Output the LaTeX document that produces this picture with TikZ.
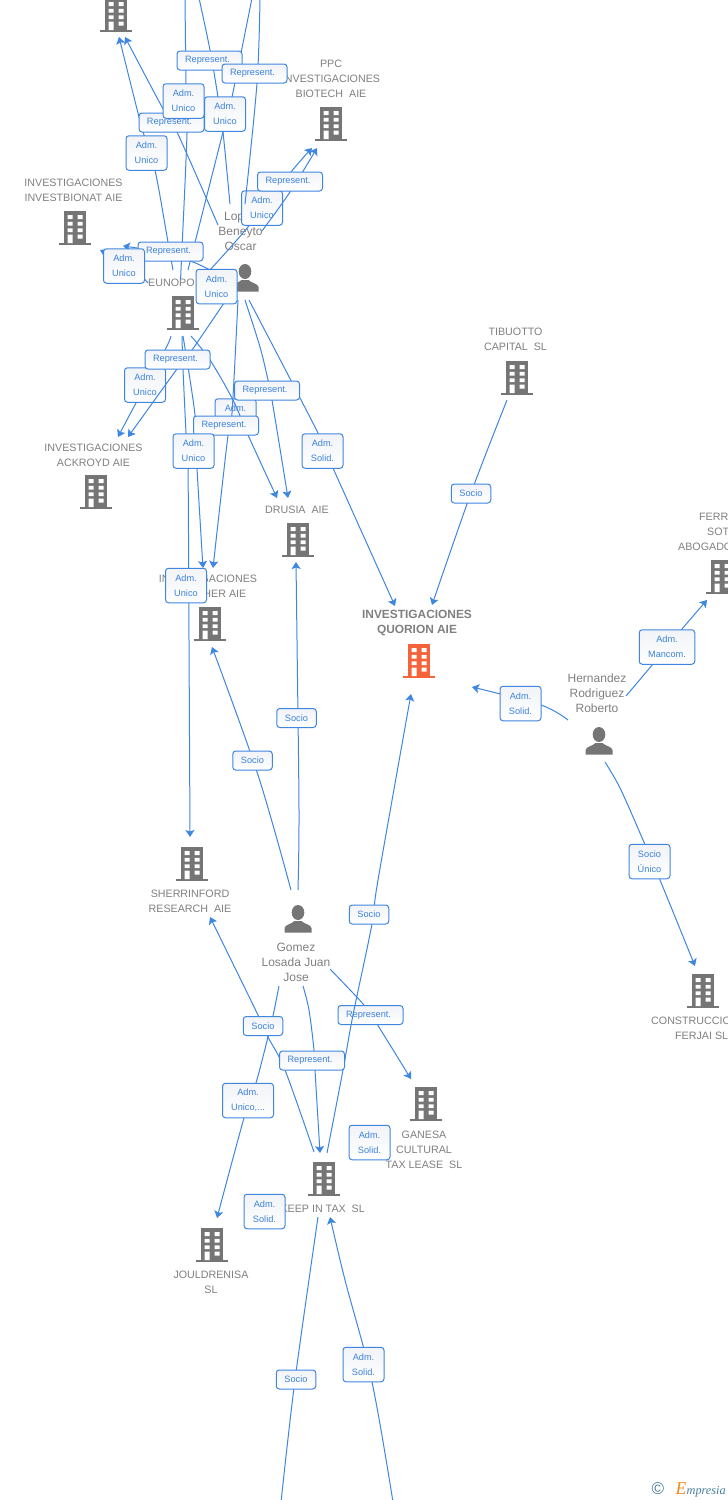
\documentclass[tikz,border=0pt]{standalone}
\usepackage{fontspec}
\setmainfont{Liberation Sans}
\newfontfamily\logofont{Liberation Serif}
\usetikzlibrary{arrows.meta}
\definecolor{linkblue}{HTML}{3F86E0}
\definecolor{boxtext}{HTML}{3C82DC}
\definecolor{boxshade}{HTML}{F1F3F7}
\definecolor{icongray}{HTML}{757575}
\definecolor{labelgray}{HTML}{808080}
\definecolor{hotorange}{HTML}{F4633A}
\definecolor{logoblue}{HTML}{4A7F9C}
\definecolor{logoorange}{HTML}{F08A1D}
\tikzset{
  link/.style={draw=linkblue,line width=1pt},
  arr/.style={-{Stealth[length=7pt,width=9pt,inset=1.5pt]}},
  lab/.style={text=labelgray,inner sep=0pt,align=center,font=\fontsize{10.7}{15}\selectfont},
  per/.style={lab,font=\fontsize{12}{15}\selectfont},
  tag/.style={draw=linkblue,line width=1pt,rounded corners=3pt,top color=boxshade,bottom color=white,
    text=boxtext,inner sep=0pt,align=center,font=\fontsize{9.2}{15}\selectfont},
  rep/.style={tag,minimum width=65pt,minimum height=19pt},
  soc/.style={tag,minimum width=39.5pt,minimum height=19pt},
  two/.style={tag,minimum width=41pt,minimum height=34.5pt},
  bld/.pic={
    \fill[pic actions] (-11,-17) rectangle (11,15.5);
    \fill[pic actions] (-16,15) rectangle (16,17);
    \fill[white] (-7.5,-13) rectangle (-2.5,-9) (2.5,-13) rectangle (7.5,-9)
      (-7.5,-6.2) rectangle (-2.5,-2.4) (2.5,-6.2) rectangle (7.5,-2.4)
      (-7.5,0.3) rectangle (-2.5,4.2) (2.5,0.3) rectangle (7.5,4.2)
      (-7.5,6.5) rectangle (-2.5,15) (2.5,6.5) rectangle (7.5,10.5);
  },
  psn/.pic={
    \fill[icongray] (0,-6.5) ellipse (6.3 and 7.5);
    \fill[icongray] (-13.5,13.5) -- (-13.5,9) .. controls (-13,5.5) and (-6,5) .. (-3.5,2)
      -- (3.5,2) .. controls (6,5) and (13,5.5) .. (13.5,9) -- (13.5,13.5) -- cycle;
  }
}
\newcommand{\conn}[2][]{\draw[link,#1] plot[smooth,tension=0.55] coordinates {#2};}
\newcommand{\repr}{Represent.\hspace*{4pt}}
\begin{document}
\begin{tikzpicture}[x=1pt,y=-1pt]
\useasboundingbox (0,0) rectangle (728,1500);
\clip (0,0) rectangle (728,1500);
\fill[white] (0,0) rectangle (728,1500);
% entities
\foreach \n/\x/\y in {top/116/15,ppc/331/124,bionat/75/228,eunopol/183/313,tibuotto/517/378,ackroyd/96/492,drusia/298/540,her/210/624,sherr/192/864,ganesa/426/1104,keep/324/1179,jould/212/1245,constr/703/991,ferr/722/577}
  {\coordinate (\n) at (\x,\y); \pic[icongray] at (\n) {bld};}
\coordinate (quorion) at (419,661);
\pic[hotorange] at (quorion) {bld};
\foreach \n/\x/\y in {lopez/245/278,hernandez/599/741,gomez/298/919}
  {\coordinate (\n) at (\x,\y); \pic at (\n) {psn};}
% labels
\node[lab] (lppc) at (331,78.7) {PPC\\INVESTIGACIONES\\BIOTECH\ \ AIE};
\node[lab] (lbionat) at (73.5,190.2) {INVESTIGACIONES\\INVESTBIONAT AIE};
\node[per] (llopez) at (240.5,231.5) {Lopez\\Beneyto\\Oscar};
\node[lab,anchor=west] (leunopol) at (148,282.7) {EUNOPO};
\node[lab] (ltib) at (515.5,339.2) {TIBUOTTO\\CAPITAL\ \ SL};
\node[lab] (lack) at (93.5,455.2) {INVESTIGACIONES\\ACKROYD AIE};
\node[lab] (ldru) at (297,509.7) {DRUSIA\ \ AIE};
\node[lab] (lher) at (208,578.7) {INVESTIGACIONES};
\node[lab,anchor=east] (lher2) at (246.5,593.7) {HER AIE};
\node[lab,font=\bfseries\fontsize{11.9}{15}\selectfont] (lquo) at (417,623) {INVESTIGACIONES\\QUORION AIE};
\node[per] (lher3) at (597,693.5) {Hernandez\\Rodriguez\\Roberto};
\node[lab] (lsher) at (190,901.2) {SHERRINFORD\\RESEARCH\ \ AIE};
\node[per] (lgom) at (296,962.5) {Gomez\\Losada Juan\\Jose};
\node[lab] (lgan) at (424,1149.7) {GANESA\\CULTURAL\\TAX LEASE\ \ SL};
\node[lab,anchor=east] (lkeep) at (365,1208.7) {KEEP IN TAX\ \ SL};
\node[lab] (ljou) at (211,1282.2) {JOULDRENISA\\SL};
\node[lab,anchor=west] (lcon) at (651,1020.7) {CONSTRUCCIONES};
\node[lab,anchor=west] (lcon2) at (675,1035.7) {FERJAI SL};
\node[lab,anchor=west] (lf1) at (699,516.7) {FERR};
\node[lab,anchor=west] (lf2) at (707,531.7) {SOT};
\node[lab,anchor=west] (lf3) at (678,546.7) {ABOGADOS};
% connector ends
\foreach \n/\x/\y in {
 sa/185/-2,ea/181/270, sb/199/-2,eb/230/204, sc/252/-2,ec/188/270, sd/260/-2,ed/245/204,
 se/173/270,ee/119/37, sf/218/225,ef/125/37, sg/148/283,eg/100/250, sh/218/274,eh/123/246,
 si/210/270,ei/312/148, sj/262/231,ej/317/148,
 sk/238/300,ek/213/568, sl/245/300,el/288/498, sm/249/300,em/395/606,
 sn/171/336,en/118/437, so/226/300,eo/128/437, sp/182/336,ep/190/837, sq/183/336,eq/203/568, sr/191/336,er/277/498,
 st/507/400,et/432/605, su/291/890,eu/212/647, sv/298/890,ev/296/562, sw/327/1153,ew/411/694,
 sx/279/986,ex/217/1218, sy/314/1152,ey/210/917, sz/303/986,ez/320/1153, sA/330/969,eA/411/1079,
 sB/318/1217,eB/281/1502, sC/393/1502,eC/330/1217, sD/568/720,eD/472/687, sE/626/696,eE/707/600, sF/605/762,eF/695/966}
 {\coordinate (\n) at (\x,\y);}
% connectors under every tag
\conn[arr]{(si) (248,227) (291,172) (ei)}
\conn[arr]{(sn) (165,350) (136,403) (en)}
\conn[arr]{(sA) (364,1005) (377,1024) (eA)}
% tags that lie under the other connectors
\node[two] (t10) at (262,208) {Adm.\\Unico};
\node[two] (t13) at (145,385) {Adm.\\Unico};
\node[two] (t16) at (235.5,416) {Adm.\\\phantom{Unico}};
\node[rep] (t26) at (370.5,1015) {\repr};
% connectors
\conn{(sa) (186,85) (187,133) (181,270) (ea)}
\conn{(sb) (210,50) (218,97) (223,132) (eb)}
\conn{(sc) (232,97) (223,132) (ec)}
\conn{(sd) (257,83) (ed)}
\conn[arr]{(se) (168,242) (155,170) (144,135) (138,113) (ee)}
\conn[arr]{(sf) (177,132) (162,107) (ef)}
\conn[arr]{(sg) (143,277) (140,270) (eg)}
\conn[arr]{(sh) (193,262) (160,252) (eh)}
\conn[arr]{(sj) (290,192) (ej)}
\conn[arr]{(sk) (232,413) (228,435) (ek)}
\conn[arr]{(sl) (260,347) (268,380) (272,400) (el)}
\conn[arr]{(sm) (318,433) (333,468) (em)}
\conn[arr]{(so) (192,350) (177,369) (eo)}
\conn[arr]{(sp) (183,369) (186,433) (188,468) (189,640) (ep)}
\conn[arr]{(sq) (195,415) (197,468) (eq)}
\conn[arr]{(sr) (210,360) (233,400) (248,435) (er)}
\conn[arr]{(st) (471,493) (et)}
\conn[arr]{(su) (258,775) (eu)}
\conn[arr]{(sv) (299,810) (297,640) (ev)}
\conn[arr]{(sw) (343,1070) (353,1015) (372,924) (378,880) (ew)}
\conn[arr]{(sx) (273,1016) (268,1037) (256,1083) (244,1118) (ex)}
\conn[arr]{(sy) (285,1070) (268,1037) (258,1015) (ey)}
\conn[arr]{(sz) (309,1010) (314,1050) (315,1070) (ez)}
\conn{(sB) (295,1380) (eB)}
\conn[arr]{(sC) (372,1382) (345,1280) (eC)}
\conn[arr]{(sD) (541,705) (eD)}
\conn[arr]{(sE) (653,664) (682,629) (eE)}
\conn[arr]{(sF) (620,788) (640,833) (660,880) (eF)}
% tags over the connectors
\node[rep] (t1) at (209.5,60.5) {\repr};
\node[rep] (t2) at (254.5,73.5) {\repr};
\node[rep] (t3) at (171.5,122.5) {\repr};
\node[two] (t4) at (183.5,101) {Adm.\\Unico};
\node[two] (t5) at (225,114) {Adm.\\Unico};
\node[two] (t6) at (146.5,153) {Adm.\\Unico};
\node[rep] (t7) at (290,181.5) {\repr};
\node[rep] (t8) at (170.5,251.5) {\repr};
\node[two] (t9) at (124,266) {Adm.\\Unico};
\node[two] (t11) at (216.5,286.5) {Adm.\\Unico};
\node[rep] (t12) at (177.5,359.5) {\repr};
\node[rep] (t14) at (267,390.5) {\repr};
\node[rep] (t15) at (226,425.5) {\repr};
\node[two] (t17) at (193.5,451) {Adm.\\Unico};
\node[two] (t18) at (322.5,451) {Adm.\\Solid.};
\node[two] (t19) at (186,585.5) {Adm.\\Unico};
\node[soc] (t20) at (471,493.5) {Socio};
\node[soc] (t21) at (296.5,718) {Socio};
\node[soc] (t22) at (252.5,760.5) {Socio};
\node[soc] (t23) at (369,914.5) {Socio};
\node[soc] (t24) at (263,1026) {Socio};
\node[rep] (t25) at (312,1060.5) {\repr};
\node[tag,minimum width=51pt,minimum height=34.5pt] (t27) at (248,1100.5) {Adm.\\Unico,...};
\node[two] (t28) at (369.5,1142.5) {Adm.\\Solid.};
\node[two] (t29) at (264.5,1211.5) {Adm.\\Solid.};
\node[two] (t30) at (363.5,1364.5) {Adm.\\Solid.};
\node[soc] (t31) at (296,1379.5) {Socio};
\node[two] (t32) at (520.5,703.5) {Adm.\\Solid.};
\node[tag,minimum width=55.5pt,minimum height=34.5pt] (t33) at (667,647) {Adm.\\Mancom.};
\node[two] (t34) at (649.5,861.5) {Socio\\Único};
% logo
\node[inner sep=0pt,text=logoblue,font=\fontsize{17}{17}\selectfont] (copyr) at (658,1489) {©};
\node[inner sep=0pt,anchor=east,font=\logofont\itshape\fontsize{12.3}{12.3}\selectfont] (logo) at (726,1489.5)
  {\textcolor{logoorange}{\fontsize{18}{18}\selectfont E}\textcolor{logoblue}{mpresia}};
\end{tikzpicture}
\end{document}
